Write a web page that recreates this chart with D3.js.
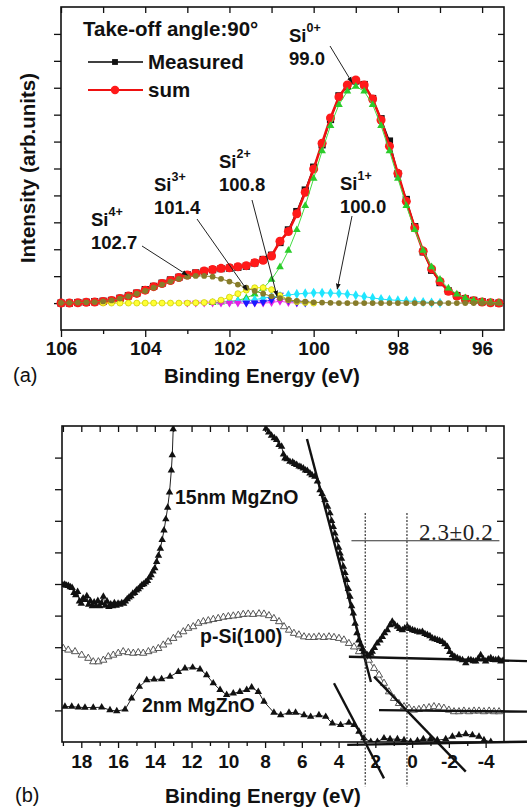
<!DOCTYPE html>
<html><head><meta charset="utf-8">
<script src="https://cdn.jsdelivr.net/npm/d3@7"></script>
<style>
body{margin:0;background:#fff;}
svg{display:block;font-family:"Liberation Sans",Arial,sans-serif;}
</style></head><body>
<svg id="chart" width="528" height="808"></svg>
<script>
// ---------- (a) Si 2p spectrum, take-off angle 90° ----------
const energyA = [106.0,105.8,105.6,105.4,105.2,105.0,104.8,104.6,104.4,104.2,104.0,103.8,103.6,103.4,103.2,103.0,102.8,102.6,102.4,102.2,102.0,101.8,101.6,101.4,101.2,101.0,100.8,100.6,100.4,100.2,100.0,99.8,99.6,99.4,99.2,99.0,98.8,98.6,98.4,98.2,98.0,97.8,97.6,97.4,97.2,97.0,96.8,96.6,96.4,96.2,96.0,95.8,95.6];
const measured = [0.00,0.00,0.02,0.03,0.05,0.07,0.10,0.18,0.27,0.37,0.50,0.62,0.74,0.86,0.96,1.05,1.12,1.18,1.24,1.28,1.30,1.33,1.37,1.49,1.62,1.78,2.25,2.72,3.40,4.20,5.05,5.88,6.82,7.70,8.05,8.25,8.12,7.60,6.85,6.02,4.80,3.85,2.84,1.90,1.22,0.76,0.45,0.28,0.16,0.10,0.05,0.02,0.00];
const sumFit = [0.00,0.00,0.01,0.03,0.04,0.06,0.10,0.17,0.26,0.36,0.48,0.61,0.73,0.84,0.95,1.04,1.10,1.19,1.25,1.29,1.31,1.35,1.39,1.50,1.59,1.75,2.30,2.66,3.32,4.12,4.98,5.94,6.88,7.66,8.10,8.29,8.10,7.58,6.80,5.83,4.82,3.78,2.80,1.93,1.27,0.80,0.44,0.26,0.15,0.09,0.04,0.01,0.00];
const si0 = [null,null,null,null,null,null,null,null,null,null,null,null,null,null,null,null,null,null,0.01,0.03,0.06,0.10,0.19,0.33,0.55,0.88,1.34,1.95,2.72,3.62,4.63,5.65,6.59,7.37,7.87,8.05,7.87,7.37,6.59,5.65,4.63,3.62,2.72,1.95,1.34,0.88,0.55,0.33,0.19,0.10,0.06,0.03,0.01];
const si1 = [null,null,null,null,null,null,null,null,null,null,null,null,null,null,null,null,null,null,null,null,0.04,0.06,0.09,0.12,0.19,0.22,0.26,0.30,0.34,0.36,0.38,0.38,0.37,0.36,0.33,0.29,0.24,0.19,0.15,0.12,0.10,0.08,0.06,0.04,0.02,0.01,null,null,null,null,null,null,null];
const si2 = [null,null,null,null,null,null,null,null,null,null,null,null,null,null,null,null,null,null,null,null,null,null,0.00,0.01,0.04,0.12,0.30,0.10,0.02,0.00,null,null,null,null,null,null,null,null,null,null,null,null,null,null,null,null,null,null,null,null,null,null,null];
const bgMag = [null,null,null,null,null,null,null,null,null,null,null,null,null,null,null,0.00,0.00,0.00,0.00,0.00,0.00,0.00,0.00,0.00,0.00,0.02,0.07,0.02,0.00,null,null,null,null,null,null,null,null,null,null,null,null,null,null,null,null,null,null,null,null,null,null,null,null];
const si3 = [null,null,null,null,null,0.00,0.00,0.00,0.00,0.00,0.00,0.00,0.00,0.00,0.00,0.00,0.01,0.02,0.05,0.11,0.22,0.35,0.48,0.57,0.57,0.50,0.28,0.12,0.05,0.02,0.00,null,null,null,null,null,null,null,null,null,null,null,null,null,null,null,null,null,null,null,null,null,null];
const si4 = [0.01,0.01,0.02,0.03,0.04,0.06,0.10,0.17,0.25,0.35,0.45,0.57,0.69,0.80,0.90,0.98,1.01,1.01,0.98,0.90,0.80,0.69,0.57,0.45,0.35,0.25,0.18,0.12,0.08,0.05,0.03,0.02,0.01,0.00,0.00,0.00,0.00,0.00,0.00,0.00,0.00,0.00,0.00,0.00,0.00,0.00,0.00,0.00,0.00,0.00,0.00,0.00,0.00];
const ticksA = [106,104,102,100,98,96];
const minorA = [105,103,101,99,97];
// component labels: name, superscript, binding energy, arrow tip (energy, intensity)
const compNames = ["Si","Si","Si","Si","Si"];
const compCharge = ["0+","1+","2+","3+","4+"];
const compBE = ["99.0","100.0","100.8","101.4","102.7"];
const tipE = [99.09,99.44,100.87,101.58,103.0];
const tipI = [8.2,0.52,0.26,0.48,1.04];

// ---------- (b) valence band spectra ----------
const energy15 = [19.0,18.9,18.8,18.7,18.6,18.5,18.4,18.3,18.2,18.1,18.0,17.9,17.8,17.7,17.6,17.5,17.4,17.3,17.2,17.1,17.0,16.9,16.8,16.7,16.6,16.5,16.4,16.3,16.2,16.1,16.0,15.9,15.8,15.7,15.6,15.5,15.4,15.3,15.2,15.1,15.0,14.9,14.8,14.7,14.6,14.5,14.4,14.3,14.2,14.1,14.0,13.9,13.8,13.7,13.6,13.5,13.4,13.3,13.2,13.1,13.05,13.0,12.9,8.2,8.1,7.95,7.8,7.65,7.5,7.37,7.24,7.1,7.0,6.92,6.8,6.65,6.5,6.4,6.28,6.15,6.05,5.92,5.8,5.7,5.56,5.45,5.29,5.15,5.01,4.9,4.74,4.6,4.47,4.38,4.29,4.2,4.1,4.0,3.92,3.84,3.74,3.65,3.56,3.47,3.38,3.29,3.2,3.1,3.0,2.9,2.8,2.7,2.62,2.52,2.44,2.35,2.25,2.17,2.05,1.9,1.75,1.62,1.5,1.35,1.2,1.08,0.95,0.8,0.68,0.53,0.4,0.26,0.12,-0.02,-0.15,-0.29,-0.42,-0.56,-0.7,-0.83,-0.97,-1.1,-1.24,-1.37,-1.5,-1.64,-1.78,-1.92,-2.05,-2.19,-2.32,-2.46,-2.6,-2.74,-2.92,-3.06,-3.2,-3.33,-3.46,-3.6,-3.73,-3.87,-4.0,-4.14,-4.28,-4.42,-4.55,-4.7,-4.83,-4.95];
const int15 = [4.97,4.98,4.95,4.94,4.90,4.88,4.72,4.65,4.75,4.45,4.38,4.55,4.50,4.62,4.35,4.46,4.30,4.42,4.31,4.47,4.30,4.40,4.60,4.32,4.45,4.28,4.36,4.30,4.40,4.32,4.38,4.35,4.40,4.38,4.45,4.52,4.58,4.62,4.70,4.72,4.80,4.84,4.90,4.97,5.00,5.05,5.10,5.20,5.28,5.40,5.50,5.70,5.90,6.12,6.40,6.70,7.05,7.42,7.90,8.60,9.08,9.90,10.8,10.6,10.1,9.92,9.80,9.70,9.62,9.56,9.40,9.35,9.10,8.98,8.95,8.87,8.85,8.80,8.77,8.72,8.70,8.66,8.60,8.58,8.50,8.45,8.40,8.25,7.97,7.85,7.66,7.45,7.24,7.00,6.81,6.60,6.39,6.15,5.97,5.80,5.55,5.35,5.13,4.85,4.60,4.30,4.07,3.75,3.45,3.22,3.08,2.95,2.86,2.78,2.75,2.72,2.80,2.86,2.98,3.12,3.22,3.33,3.45,3.54,3.70,3.81,3.72,3.65,3.58,3.54,3.60,3.65,3.58,3.54,3.52,3.49,3.47,3.49,3.42,3.39,3.35,3.28,3.26,3.23,3.20,3.17,3.10,3.01,2.85,2.75,2.70,2.66,2.62,2.59,2.50,2.60,2.59,2.56,2.55,2.64,2.75,2.62,2.55,2.62,2.66,2.60,2.59,2.62,2.55,2.58];
const energySi = [18.98,18.71,18.34,17.98,17.62,17.35,17.07,16.8,16.53,16.26,15.99,15.72,15.44,15.17,14.9,14.63,14.35,14.08,13.81,13.54,13.27,12.99,12.72,12.45,12.18,11.91,11.63,11.36,11.09,10.82,10.55,10.27,10.0,9.73,9.46,9.19,8.92,8.65,8.33,8.06,7.79,7.52,7.24,6.97,6.7,6.43,6.16,5.88,5.61,5.34,5.07,4.8,4.52,4.25,3.98,3.71,3.44,3.16,2.89,2.62,2.35,2.07,1.8,1.53,1.26,0.99,0.72,0.44,0.17,-0.1,-0.37,-0.64,-0.92,-1.19,-1.46,-1.73,-2.0,-2.28,-2.55,-2.82,-3.1,-3.37,-3.64,-3.91,-4.19,-4.46,-4.73];
const intSi = [2.96,2.91,2.86,2.75,2.65,2.54,2.54,2.59,2.70,2.75,2.81,2.86,2.83,2.81,2.83,2.81,2.86,2.91,2.96,3.07,3.17,3.28,3.39,3.49,3.60,3.65,3.76,3.81,3.84,3.88,3.91,3.95,3.97,3.99,4.01,4.04,4.05,4.04,4.06,4.05,4.00,3.91,3.81,3.65,3.54,3.44,3.39,3.33,3.31,3.31,3.33,3.31,3.33,3.31,3.28,3.23,3.12,3.01,2.86,2.75,2.59,2.33,2.12,1.86,1.59,1.38,1.22,1.12,1.07,1.01,1.03,1.07,1.09,1.12,1.10,1.07,1.01,0.96,0.96,0.98,0.96,0.98,0.98,0.96,0.98,0.96,0.96];
const energy2 = [18.89,18.52,18.16,17.8,17.35,16.89,16.44,16.07,15.62,15.26,14.84,14.44,14.04,13.63,13.17,12.72,12.36,11.94,11.54,11.18,10.82,10.45,10.09,9.73,9.37,9.0,8.73,8.37,8.06,7.52,7.15,6.7,6.34,5.88,5.52,5.07,4.7,4.34,3.89,3.44,3.16,2.89,2.62,2.25,1.89,1.53,1.2,0.8,0.44,0.08,-0.29,-0.61,-1.0,-1.37,-1.83,-2.19,-2.55,-2.92,-3.28,-3.64,-3.91,-4.28];
const int2 = [1.12,1.12,1.10,1.09,1.09,1.10,1.01,0.98,1.03,1.38,1.75,1.96,1.98,1.99,2.07,2.22,2.33,2.36,2.30,2.12,1.86,1.65,1.49,1.54,1.59,1.65,1.73,1.59,1.28,0.93,0.85,0.93,0.93,0.85,0.80,0.85,0.80,0.59,0.54,0.61,0.54,0.33,0.12,0.01,0.01,0.12,0.09,0.09,0.06,0.01,0.04,0.09,0.09,0.06,0.09,0.17,0.22,0.25,0.22,0.17,0.06,0.01];
// linear extrapolations of leading edges and baselines: [E1, I1, E2, I2]
const edgeFits = [
  [5.72, 9.59, 2.24, 1.90],
  [3.44, 2.70, -6.25, 2.56],
  [1.80, 1.01, -6.25, 0.96],
  [3.53, -0.09, -6.25, 0.01],
  [2.07, 2.07, -2.92, -0.94],
  [4.25, 1.86, 1.53, -1.15]
];
const vbmMarks = [2.55, 0.28];          // dotted onset markers (eV)
const vbmSpan = [7.25, -1.4];           // their vertical extent (intensity units)
const offsetBar = [3.3, -4.75, 6.37];   // E from, E to, intensity
const ticksB = [18,16,14,12,10,8,6,4,2,0,-2,-4];
const minorB = [19,17,15,13,11,9,7,5,3,1,-1,-3];

const svg = d3.select("#chart");
const FONT = "Liberation Sans, Arial, sans-serif";

function drawSeries(g, x, y, xs, ys, o) {
  const pts = xs.map((e, i) => ({e, v: ys[i]})).filter(d => d.v !== null);
  if (o.line) {
    g.append("path").datum(pts)
      .attr("d", d3.line().x(d => x(d.e)).y(d => y(d.v)))
      .attr("fill", "none").attr("stroke", o.line).attr("stroke-width", o.lw || 1);
  }
  g.append("g").selectAll("path").data(pts).join("path")
    .attr("transform", d => `translate(${x(d.e)},${y(d.v)})` + (o.down ? " rotate(180)" : ""))
    .attr("d", d3.symbol(o.sym, o.size))
    .attr("fill", o.fill)
    .attr("stroke", o.stroke || "none")
    .attr("stroke-width", o.sw || 0.8);
}

function styleAxis(sel) {
  sel.select(".domain").remove();
  sel.selectAll("line").attr("stroke", "#111").attr("stroke-width", 1.3);
  sel.selectAll("text").attr("font-family", FONT).attr("font-weight", "bold")
    .attr("font-size", 19).attr("fill", "#111");
}

// ================= panel (a) =================
const xA = d3.scaleLinear().domain([106, 95.48]).range([61, 504]);
const yA = d3.scaleLinear().domain([-1, 11]).range([330, 7]);
const gA = svg.append("g");
const yTicksA = [0,1,2,3,4,5,6,7,8,9,10];

gA.append("g").attr("transform", "translate(0,330)")
  .call(d3.axisBottom(xA).tickValues(ticksA).tickFormat(d => String(d)).tickSize(7).tickPadding(5))
  .call(styleAxis);
gA.append("g").attr("transform", "translate(0,330)")
  .call(d3.axisBottom(xA).tickValues(minorA).tickFormat("").tickSize(4)).call(styleAxis);
gA.append("g").attr("transform", "translate(0,7)")
  .call(d3.axisTop(xA).tickValues(ticksA.concat(minorA)).tickFormat("").tickSize(-6)).call(styleAxis);
gA.append("g").attr("transform", "translate(61,0)")
  .call(d3.axisLeft(yA).tickValues(yTicksA).tickFormat("").tickSize(7)).call(styleAxis);
gA.append("g").attr("transform", "translate(504,0)")
  .call(d3.axisRight(yA).tickValues(yTicksA).tickFormat("").tickSize(-6)).call(styleAxis);
gA.append("rect").attr("x", 61).attr("y", 7).attr("width", 443).attr("height", 323)
  .attr("fill", "none").attr("stroke", "#111").attr("stroke-width", 1.6);

const triDown = d3.symbolTriangle;
drawSeries(gA, xA, yA, energyA, measured, {line: "#000", lw: 1.2, sym: d3.symbolSquare, size: 52, fill: "#111"});
drawSeries(gA, xA, yA, energyA, sumFit, {line: "#ee1111", lw: 2.6, sym: d3.symbolCircle, size: 64, fill: "#ff1a1a"});
drawSeries(gA, xA, yA, energyA, si0, {line: "#44dd44", lw: 1, sym: d3.symbolTriangle, size: 26, fill: "#2bcc2b"});
drawSeries(gA, xA, yA, energyA, si1, {line: "#22ddee", lw: 1, sym: d3.symbolDiamond, size: 30, fill: "#1ee6ff"});
drawSeries(gA, xA, yA, energyA, bgMag, {line: "#ee44ee", lw: 1, sym: triDown, size: 26, fill: "#e61ee6", down: true});
drawSeries(gA, xA, yA, energyA, si2, {line: "#3333ff", lw: 1, sym: triDown, size: 26, fill: "#1a1aff", down: true});
drawSeries(gA, xA, yA, energyA, si3, {line: "#e6e600", lw: 1, sym: d3.symbolCircle, size: 28, fill: "#ffff33", stroke: "#c8c800", sw: 0.7});
drawSeries(gA, xA, yA, energyA, si4, {line: "#8a8030", lw: 1, sym: d3.symbolCircle, size: 26, fill: "#877c2a"});

// header and legend
gA.append("text").attr("x", 83).attr("y", 36).attr("font-family", FONT).attr("font-weight", "bold")
  .attr("font-size", 20.5).attr("fill", "#111").text("Take-off angle:90°");
const legend = [["Measured", "#000", d3.symbolSquare, 34, 62], ["sum", "#ee1111", d3.symbolCircle, 56, 90]];
legend.forEach(([lab, col, sym, size, ly]) => {
  gA.append("line").attr("x1", 88).attr("x2", 143).attr("y1", ly).attr("y2", ly)
    .attr("stroke", col).attr("stroke-width", col === "#000" ? 1.6 : 2);
  gA.append("path").attr("transform", `translate(115,${ly})`).attr("d", d3.symbol(sym, size)).attr("fill", col === "#000" ? "#111" : "#ff1a1a");
  gA.append("text").attr("x", 148).attr("y", ly + 7).attr("font-family", FONT).attr("font-weight", "bold")
    .attr("font-size", 20.5).attr("fill", "#111").text(lab);
});

// component labels with arrows
const defs = svg.append("defs");
defs.append("marker").attr("id", "ah").attr("viewBox", "0 0 10 10").attr("refX", 9).attr("refY", 5)
  .attr("markerWidth", 6).attr("markerHeight", 6).attr("orient", "auto")
  .append("path").attr("d", "M0,1 L10,5 L0,9 z").attr("fill", "#111");
const labelPos = [[289, 42, 330, 46], [340, 190, 352, 216], [219, 168, 252, 200], [154, 191, 197, 219], [91, 226, 142, 246]];
compNames.forEach((nm, i) => {
  const [lx, ly, ax, ay] = labelPos[i];
  const t = gA.append("text").attr("x", lx).attr("y", ly).attr("font-family", FONT).attr("font-weight", "bold")
    .attr("font-size", 18.5).attr("fill", "#111");
  t.append("tspan").text(nm);
  t.append("tspan").attr("dy", -10).attr("font-size", 12.5).text(compCharge[i]);
  gA.append("text").attr("x", lx).attr("y", ly + 23).attr("font-family", FONT).attr("font-weight", "bold")
    .attr("font-size", 18.5).attr("fill", "#111").text(compBE[i]);
  gA.append("line").attr("x1", ax).attr("y1", ay).attr("x2", xA(tipE[i])).attr("y2", yA(tipI[i]))
    .attr("stroke", "#222").attr("stroke-width", 1).attr("marker-end", "url(#ah)");
});

gA.append("text").attr("x", 262).attr("y", 383).attr("text-anchor", "middle").attr("font-family", FONT)
  .attr("font-weight", "bold").attr("font-size", 20.5).attr("fill", "#111").text("Binding Energy (eV)");
gA.append("text").attr("transform", "translate(35,168) rotate(-90)").attr("text-anchor", "middle")
  .attr("font-family", FONT).attr("font-weight", "bold").attr("font-size", 20.5).attr("fill", "#111")
  .text("Intensity (arb.units)");
gA.append("text").attr("x", 13).attr("y", 382).attr("font-family", FONT).attr("font-size", 20)
  .attr("fill", "#111").text("(a)");

// ================= panel (b) =================
const xB = d3.scaleLinear().domain([19.05, -5.0]).range([62, 504]);
const yB = d3.scaleLinear().domain([0, 10]).range([742, 426]);
const gB = svg.append("g");
const yTicksB = [1,2,3,4,5,6,7,8,9];

gB.append("g").attr("transform", "translate(0,742)")
  .call(d3.axisBottom(xB).tickValues(ticksB).tickFormat(d => String(d)).tickSize(6).tickPadding(7))
  .call(styleAxis);
gB.append("g").attr("transform", "translate(0,742)")
  .call(d3.axisBottom(xB).tickValues(minorB).tickFormat("").tickSize(4)).call(styleAxis);
gB.append("g").attr("transform", "translate(0,426)")
  .call(d3.axisTop(xB).tickValues(ticksB.concat(minorB)).tickFormat("").tickSize(-6)).call(styleAxis);
gB.append("g").attr("transform", "translate(62,0)")
  .call(d3.axisLeft(yB).tickValues(yTicksB).tickFormat("").tickSize(7)).call(styleAxis);
gB.append("g").attr("transform", "translate(504,0)")
  .call(d3.axisRight(yB).tickValues(yTicksB).tickFormat("").tickSize(-7)).call(styleAxis);

defs.append("clipPath").attr("id", "clipB").append("rect")
  .attr("x", 62).attr("y", 426).attr("width", 442).attr("height", 316);
const plotB = gB.append("g").attr("clip-path", "url(#clipB)");
drawSeries(plotB, xB, yB, energySi, intSi, {line: "#666", lw: 1, sym: d3.symbolTriangle, size: 22, fill: "#fff", stroke: "#444", sw: 0.9});
drawSeries(plotB, xB, yB, energy2, int2, {line: "#222", lw: 1, sym: d3.symbolTriangle, size: 24, fill: "#111"});
drawSeries(plotB, xB, yB, energy15, int15, {line: "#222", lw: 1, sym: d3.symbolTriangle, size: 24, fill: "#111"});

gB.append("rect").attr("x", 62).attr("y", 426).attr("width", 442).attr("height", 316)
  .attr("fill", "none").attr("stroke", "#111").attr("stroke-width", 1.6);

// onset construction lines
edgeFits.forEach(([e1, i1, e2, i2]) => {
  gB.append("line").attr("x1", xB(e1)).attr("y1", yB(i1)).attr("x2", xB(e2)).attr("y2", yB(i2))
    .attr("stroke", "#111").attr("stroke-width", 2.4);
});
vbmMarks.forEach(e => {
  gB.append("line").attr("x1", xB(e)).attr("x2", xB(e)).attr("y1", yB(vbmSpan[0])).attr("y2", yB(vbmSpan[1]))
    .attr("stroke", "#333").attr("stroke-width", 1.2).attr("stroke-dasharray", "2,1.5");
});
gB.append("line").attr("x1", xB(offsetBar[0])).attr("x2", xB(offsetBar[1]))
  .attr("y1", yB(offsetBar[2])).attr("y2", yB(offsetBar[2])).attr("stroke", "#333").attr("stroke-width", 1.1);
gB.append("text").attr("x", 419).attr("y", yB(offsetBar[2]) - 1).attr("font-family", "Liberation Serif, Times New Roman, serif")
  .attr("font-size", 23).attr("letter-spacing", 0.6).attr("fill", "#222").text("2.3±0.2");

const sampleLabels = [["15nm MgZnO", 175, 504], ["p-Si(100)", 200, 643], ["2nm MgZnO", 142, 712]];
sampleLabels.forEach(([t, x, y]) => {
  gB.append("text").attr("x", x).attr("y", y).attr("font-family", FONT).attr("font-weight", "bold")
    .attr("font-size", 19.5).attr("fill", "#111").text(t);
});
gB.append("text").attr("x", 263).attr("y", 803).attr("text-anchor", "middle").attr("font-family", FONT)
  .attr("font-weight", "bold").attr("font-size", 20.5).attr("fill", "#111").text("Binding Energy (eV)");
gB.append("text").attr("x", 15).attr("y", 802).attr("font-family", FONT).attr("font-size", 20)
  .attr("fill", "#111").text("(b)");
</script>
</body></html>
